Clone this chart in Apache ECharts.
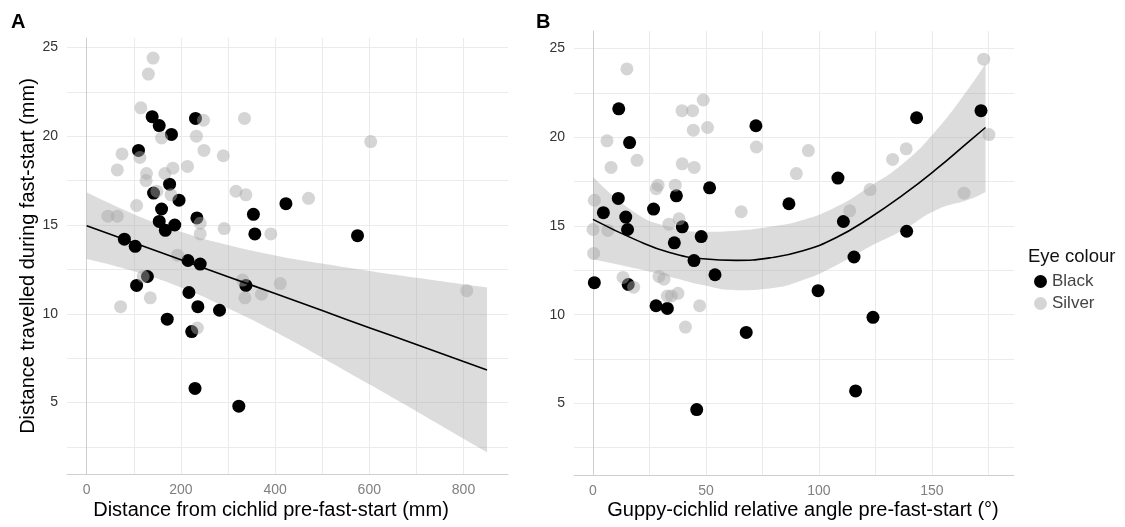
<!DOCTYPE html>
<html lang="en">
<head>
<meta charset="UTF-8">
<script src="https://cdn.jsdelivr.net/npm/echarts@6/dist/echarts.min.js"></script>
<title>Fast-start distance</title>
<style>
    html, body { margin: 0; padding: 0; background: #fff; }
    #main { width: 1125px; height: 527px; }
</style>
</head>
<body>
<div id="main"></div>
<script type="text/javascript">

    // ---- panel A : distance from cichlid (mm) vs distance travelled (mm)
    var blackA = [[139,21.1],[154,20.6],[180,20.1],[231,21.0],[110,19.2],[176,17.3],[142,16.8],[196,16.4],
        [159,15.9],[234,15.4],[154,15.2],[187,15.0],[167,14.7],[354,15.6],[357,14.5],[423,16.2],[575,14.4],
        [80,14.2],[103,13.8],[215,13.0],[241,12.8],[129,12.1],[106,11.6],[338,11.6],[217,11.2],[236,10.4],
        [282,10.2],[171,9.7],[223,9.0],[230,5.8],[323,4.8]];
    var silverA = [[141,24.4],[131,23.5],[115,21.6],[248,20.9],[335,21.0],[159,19.9],[233,20.0],[603,19.7],
        [75,19.0],[113,18.8],[65,18.1],[127,17.9],[126,17.5],[166,17.9],[183,18.2],[214,18.3],[249,19.2],
        [290,18.9],[149,16.9],[179,16.7],[317,16.9],[338,16.7],[471,16.5],[106,16.1],[45,15.5],[65,15.5],
        [241,15.1],[241,14.5],[292,14.8],[391,14.5],[193,13.3],[120,12.1],[135,10.9],[72,10.4],
        [331,11.9],[336,10.9],[371,11.1],[411,11.7],[807,11.3],[235,9.2]];
    // fitted line and its band
    var fitXA = [0, 100, 200, 300, 400, 500, 600, 700, 800, 850];
    var fitYA = [14.96, 14.00, 13.05, 12.09, 11.14, 10.18, 9.22, 8.27, 7.31, 6.84];
    var lowA  = [13.08, 12.39, 11.48, 10.31, 8.99, 7.53, 6.03, 4.51, 2.96, 2.20];
    var upA   = [16.84, 15.61, 14.62, 13.87, 13.29, 12.83, 12.41, 12.03, 11.66, 11.48];

    // ---- panel B : relative angle (deg) vs distance travelled (mm)
    var blackB = [[11.4,21.6],[16.2,19.7],[72.1,20.65],[143.2,21.1],[171.7,21.5],[51.6,17.15],[108.4,17.7],
        [11.2,16.55],[36.9,16.7],[86.7,16.25],[4.6,15.75],[14.5,15.5],[15.3,14.8],[26.8,15.95],[39.5,14.95],
        [47.9,14.4],[36,14.05],[110.8,15.25],[138.8,14.7],[44.7,13.05],[115.5,13.25],[54,12.25],[0.6,11.8],
        [15.6,11.7],[27.9,10.5],[32.9,10.35],[99.6,11.35],[67.8,9.0],[123.9,9.85],[45.9,4.65],[116.2,5.7]];
    var silverB = [[15,23.85],[48.8,22.1],[39.4,21.5],[44.1,21.5],[44.4,20.4],[50.7,20.55],[6.2,19.8],
        [72.3,19.45],[95.3,19.25],[19.5,18.7],[8,18.3],[39.5,18.5],[44.8,18.3],[90,17.95],[138.6,19.35],
        [132.6,18.75],[172.9,24.4],[175.2,20.15],[122.6,17.05],[164.2,16.85],[113.6,15.85],[65.6,15.8],
        [28.8,17.3],[28,17.1],[36.4,17.3],[0.6,16.45],[0,14.8],[6.6,14.75],[33.6,15.1],[38.1,15.4],
        [0.3,13.45],[13.3,12.1],[29.2,12.15],[31.4,12.0],[18,11.55],[32.9,11.05],[34.7,11.05],[37.6,11.2],
        [47.2,10.5],[40.9,9.3]];
    var fitXB = [0, 19.2, 33.9, 48.7, 63.4, 78.2, 92.9, 107.7, 122.4, 137.2, 151.9, 166.7, 173.7];
    var fitYB = [15.37, 14.2, 13.5, 13.15, 13.06, 13.2, 13.6, 14.35, 15.45, 16.75, 18.2, 19.8, 20.55];
    var lowB  = [13.11, 12.6, 12.14, 11.67, 11.38, 11.48, 11.95, 12.79, 13.83, 14.77, 15.9, 16.5, 16.92];
    var upB   = [17.77, 15.7, 14.95, 14.67, 14.73, 14.95, 15.33, 16.08, 17.21, 18.52, 20.4, 22.84, 24.15];

    // tick labels (major) and grid lines (major + minor)
    var ticksXA = [0, 200, 400, 600, 800];
    var gridXA = [0, 100, 200, 300, 400, 500, 600, 700, 800];
    var ticksXB = [0, 50, 100, 150];
    var gridXB = [0, 25, 50, 75, 100, 125, 150, 175];
    var ticksY = [5, 10, 15, 20, 25];
    var gridY = [2.5, 5, 7.5, 10, 12.5, 15, 17.5, 20, 22.5, 25];

    var FONT = "'Liberation Sans', Arial, Helvetica, sans-serif";
    var SILVER = 'rgba(168,168,168,0.48)';
    var BAND = 'rgba(153,153,153,0.34)';

    // band data is stored [y, x] so the stack works on the y values
    function bandLow(xs, lo) {
        return xs.map(function (x, i) { return [lo[i], x]; });
    }
    function bandDiff(xs, lo, hi) {
        return xs.map(function (x, i) { return [+(hi[i] - lo[i]).toFixed(3), x]; });
    }
    function zip(xs, ys) {
        return xs.map(function (x, i) { return [x, ys[i]]; });
    }

    function xAxis(idx, min, max, ticks, grid) {
        return {
            type: 'value', gridIndex: idx, min: min, max: max,
            axisLine: { show: true, lineStyle: { color: '#cfcfcf', width: 1 } },
            axisTick: { show: false, customValues: grid },
            axisLabel: { customValues: ticks, margin: 9, fontFamily: FONT, fontSize: 14, color: '#808080' },
            splitLine: { show: true, lineStyle: { color: '#ebebeb', width: 1 } }
        };
    }
    function yAxis(idx, min, max, title) {
        return {
            type: 'value', gridIndex: idx, min: min, max: max,
            name: title, nameLocation: 'middle', nameGap: 28,
            nameTextStyle: { fontFamily: FONT, fontSize: 20, color: '#000' },
            axisLine: { show: true, lineStyle: { color: '#cfcfcf', width: 1 } },
            axisTick: { show: false, customValues: gridY },
            axisLabel: { customValues: ticksY, margin: 9, fontFamily: FONT, fontSize: 14, color: '#333' },
            splitLine: { show: true, lineStyle: { color: '#ebebeb', width: 1 } }
        };
    }

    function panelSeries(idx, black, silver, fx, fy, lo, hi) {
        var stackName = 'band' + idx;
        return [
            { name: 'lo' + idx, type: 'line', xAxisIndex: idx, yAxisIndex: idx, stack: stackName,
              encode: { x: 1, y: 0 }, data: bandLow(fx, lo), smooth: true, symbol: 'none',
              lineStyle: { opacity: 0 }, z: 1, silent: true },
            { name: 'band' + idx, type: 'line', xAxisIndex: idx, yAxisIndex: idx, stack: stackName,
              encode: { x: 1, y: 0 }, data: bandDiff(fx, lo, hi), smooth: true, symbol: 'none',
              lineStyle: { opacity: 0 }, areaStyle: { color: BAND, opacity: 1 }, z: 1, silent: true },
            { name: 'Black', type: 'scatter', xAxisIndex: idx, yAxisIndex: idx, data: black,
              symbolSize: 13, itemStyle: { color: '#000', opacity: 1 }, z: 2 },
            { name: 'Silver', type: 'scatter', xAxisIndex: idx, yAxisIndex: idx, data: silver,
              symbolSize: 13, itemStyle: { color: SILVER, opacity: 1 }, z: 3 },
            { name: 'fit' + idx, type: 'line', xAxisIndex: idx, yAxisIndex: idx, data: zip(fx, fy),
              smooth: true, symbol: 'none', lineStyle: { color: '#000', width: 1.6 }, z: 4, silent: true }
        ];
    }

    var myChart = echarts.init(document.getElementById('main'), null, { renderer: 'canvas' });

    var option = {
        backgroundColor: '#fff',
        animation: false,
        textStyle: { fontFamily: FONT },
        grid: [
            { left: 67, top: 38, width: 441, height: 436 },
            { left: 574, top: 31, width: 440, height: 444 }
        ],
        xAxis: [
            xAxis(0, -41.8, 894.5, ticksXA, gridXA),
            xAxis(1, -8.4, 186.3, ticksXB, gridXB)
        ],
        yAxis: [
            yAxis(0, 0.98, 25.53, 'Distance travelled during fast-start (mm)'),
            yAxis(1, 0.96, 25.99, '')
        ],
        legend: {
            data: ['Black', 'Silver'],
            orient: 'vertical', left: 1034, top: 273, padding: 0,
            icon: 'circle', itemWidth: 13, itemHeight: 13, itemGap: 5,
            textStyle: { fontFamily: FONT, fontSize: 17, color: '#444' }
        },
        graphic: [
            { type: 'text', left: 11, top: 12, style: { text: 'A', fontFamily: FONT, fontSize: 20, fontWeight: 'bold', fill: '#000' } },
            { type: 'text', left: 536, top: 12, style: { text: 'B', fontFamily: FONT, fontSize: 20, fontWeight: 'bold', fill: '#000' } },
            { type: 'text', x: 271, y: 510, style: { text: 'Distance from cichlid pre-fast-start (mm)',
              fontFamily: FONT, fontSize: 20, fill: '#000', align: 'center', verticalAlign: 'middle' } },
            { type: 'text', x: 803, y: 510, style: { text: 'Guppy-cichlid relative angle pre-fast-start (°)',
              fontFamily: FONT, fontSize: 20, fill: '#000', align: 'center', verticalAlign: 'middle' } },
            { type: 'text', left: 1028, top: 247, style: { text: 'Eye colour', fontFamily: FONT, fontSize: 18.5, fill: '#111' } }
        ],
        series: panelSeries(0, blackA, silverA, fitXA, fitYA, lowA, upA)
            .concat(panelSeries(1, blackB, silverB, fitXB, fitYB, lowB, upB))
    };

    myChart.setOption(option);

</script>
</body>
</html>
